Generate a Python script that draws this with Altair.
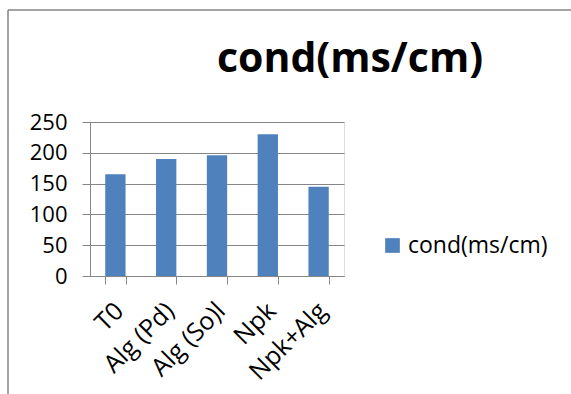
import altair as alt
import pandas as pd

# Conductivity per treatment
treatments = ["T0", "Alg (Pd)", "Alg (So)l", "Npk", "Npk+Alg"]
cond_values = [165, 190, 196, 230, 145]
series_name = "cond(ms/cm)"
y_ticks = [0, 50, 100, 150, 200, 250]
title_text = "cond(ms/cm)"

df = pd.DataFrame({"treatment": treatments, "cond": cond_values, "series": series_name})

FONT = "Open Sans"
GRAY = "#868686"
BLUE = "#4F81BD"

bars = alt.Chart(df).mark_bar(color=BLUE).encode(
    x=alt.X(
        "treatment:N",
        sort=treatments,
        scale=alt.Scale(paddingInner=0.6, paddingOuter=0.3),
        axis=alt.Axis(
            title=None,
            labelAngle=-45,
            labelFontSize=25,
            labelFont=FONT,
            labelColor="#000000",
            tickBand="extent",
            tickSize=8,
            tickColor=GRAY,
            domainColor=GRAY,
            labelPadding=14,
            labelOffset=-5,
            grid=False,
        ),
    ),
    y=alt.Y(
        "cond:Q",
        scale=alt.Scale(domain=[0, 250], nice=False),
        axis=alt.Axis(
            title=None,
            values=y_ticks,
            labelFontSize=22,
            labelFont=FONT,
            labelColor="#000000",
            tickSize=8,
            tickColor=GRAY,
            domainColor=GRAY,
            gridColor=GRAY,
            labelPadding=15,
        ),
    ),
    color=alt.Color(
        "series:N",
        scale=alt.Scale(range=[BLUE]),
        legend=alt.Legend(
            title=None,
            orient="none",
            legendX=291,
            legendY=112,
            symbolType="square",
            symbolSize=215,
            symbolStrokeWidth=0,
            labelFont=FONT,
            labelFontSize=23,
            labelColor="#000000",
            labelOffset=4,
        ),
    ),
)

# Outer chart-area border (left and top edges)
frame = alt.Chart(alt.Data(values=[{}])).mark_rule(color=GRAY, strokeWidth=1.5).encode(
    x=alt.value(-82), y=alt.value(-112), y2=alt.value(280)
)
frame_top = alt.Chart(alt.Data(values=[{}])).mark_rule(color=GRAY, strokeWidth=1.5).encode(
    x=alt.value(-82), x2=alt.value(490), y=alt.value(-112)
)

# Chart heading, centred over the right part of the chart area
heading = alt.Chart(alt.Data(values=[{"t": title_text}])).mark_text(
    font=FONT, fontSize=41, fontWeight="bold", color="#000000",
    align="center", baseline="alphabetic",
).encode(text="t:N", x=alt.value(260), y=alt.value(-50))

chart = alt.layer(frame, frame_top, bars, heading).properties(
    width=254,
    height=154,
    autosize=alt.AutoSizeParams(type="none"),
    padding={"left": 90, "top": 122, "right": 227, "bottom": 118},
).configure_view(stroke=None).configure(background="white")

chart.save("out.html", embed_options={"renderer": "svg", "actions": False})
